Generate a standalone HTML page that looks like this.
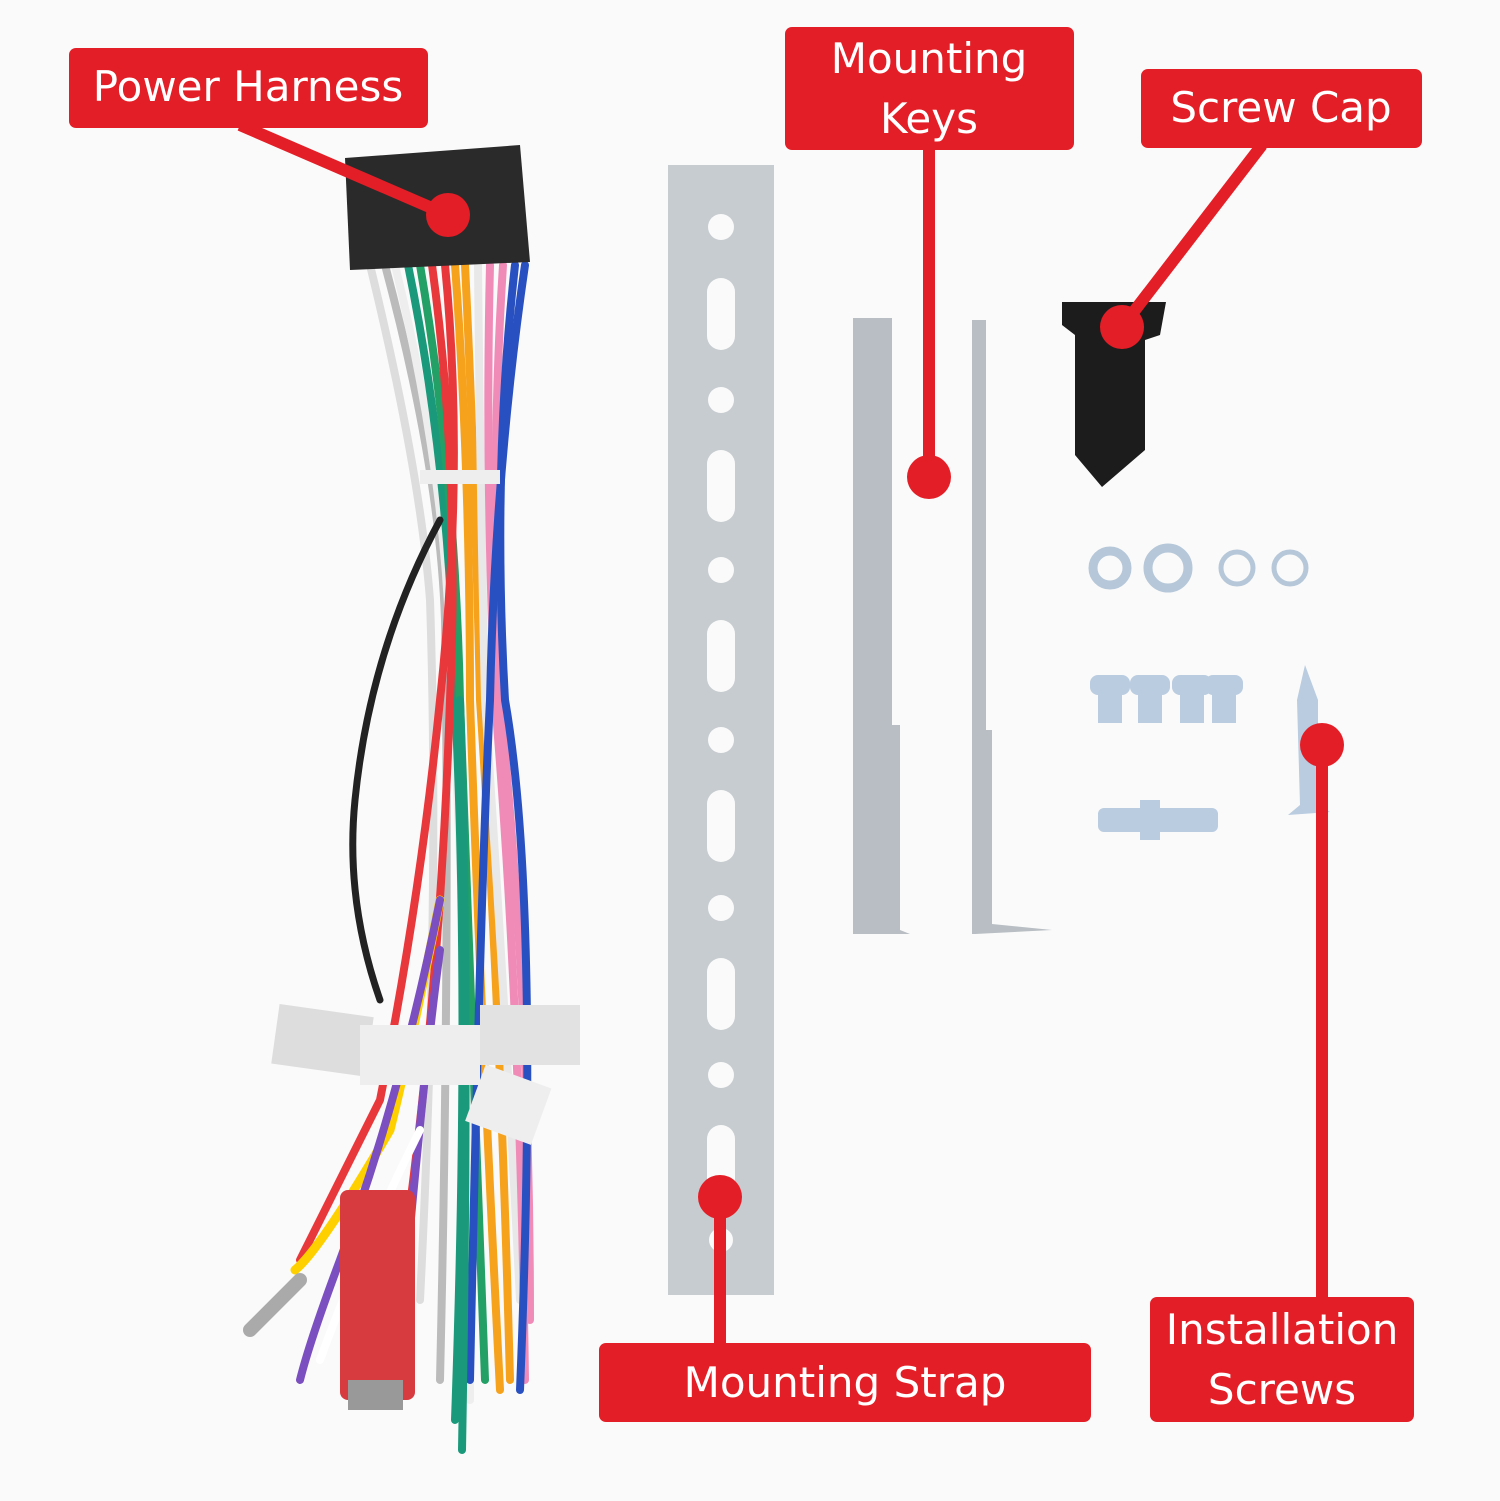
<!DOCTYPE html>
<html><head><meta charset="utf-8"><style>
html,body{margin:0;padding:0;background:#fafafa}
svg{display:block}
text{font-family:"DejaVu Sans","Liberation Sans",sans-serif;fill:#fff}
</style></head><body>
<svg width="1500" height="1501" viewBox="0 0 1500 1501" xmlns="http://www.w3.org/2000/svg">
<rect width="1500" height="1501" fill="#fafafa"/>
<g fill="none" stroke-width="8" stroke-linecap="round">
<path d="M370 265 Q420 470 430 600 Q440 900 420 1300" stroke="#ddd"/>
<path d="M385 265 Q440 470 445 620 Q450 950 440 1380" stroke="#bbb"/>
<path d="M395 265 Q445 470 450 650 Q470 1000 470 1400" stroke="#eee"/>
<path d="M408 265 Q450 470 455 700 Q470 1000 455 1420" stroke="#1a9a7a"/>
<path d="M420 265 Q455 470 460 700 Q470 1000 485 1380" stroke="#22a066"/>
<path d="M432 265 Q460 470 450 700 Q440 1000 400 1280" stroke="#e8383c"/>
<path d="M445 265 Q465 470 440 700 Q420 900 380 1100 Q330 1200 300 1260" stroke="#e8383c"/>
<path d="M455 265 Q470 470 470 700 Q480 1000 500 1390" stroke="#f6a21c"/>
<path d="M465 265 Q475 470 480 700 Q500 1000 510 1380" stroke="#f6a21c"/>
<path d="M478 265 Q480 470 485 700 Q505 1000 520 1300" stroke="#e8e8e8"/>
<path d="M490 265 Q485 470 495 700 Q520 1000 525 1380" stroke="#f08bb8"/>
<path d="M503 265 Q490 470 500 700 Q530 1000 530 1320" stroke="#f08bb8"/>
<path d="M515 265 Q492 470 505 700 Q540 900 520 1390" stroke="#2850c0"/>
<path d="M525 265 Q495 470 490 700 Q480 900 470 1380" stroke="#2850c0"/>
<path d="M440 520 Q370 650 355 800 Q345 900 380 1000" stroke="#222" stroke-width="7"/>
<path d="M440 900 Q410 1050 390 1130 Q320 1250 295 1270" stroke="#ffd000" stroke-width="9"/>
<path d="M440 900 Q400 1100 340 1260 Q310 1340 300 1380" stroke="#7b4fc0"/>
<path d="M440 950 Q420 1100 395 1400" stroke="#7b4fc0"/>
<path d="M420 1130 Q360 1250 320 1360" stroke="#fff"/>
<path d="M460 700 Q470 1000 462 1450" stroke="#1a9a7a"/>
<path d="M250 1330 L300 1280" stroke="#aaa" stroke-width="14"/>
</g>
<rect x="340" y="1190" width="75" height="210" rx="8" fill="#d73b3f"/>
<rect x="348" y="1380" width="55" height="30" fill="#999"/>
<rect x="275" y="1010" width="95" height="60" fill="#ddd" transform="rotate(8 320 1040)"/>
<rect x="360" y="1025" width="120" height="60" fill="#eee"/>
<rect x="480" y="1005" width="100" height="60" fill="#e2e2e2"/>
<rect x="475" y="1075" width="70" height="60" fill="#eee" transform="rotate(20 510 1100)"/>
<rect x="420" y="470" width="80" height="14" fill="#eee"/>
<path d="M345 158 L520 145 L530 262 L350 270 Z" fill="#2a2a2a"/>
<rect x="668" y="165" width="106" height="1130" fill="#c7ccd0"/>
<g fill="#fafafa">
<circle cx="721" cy="227" r="13"/><rect x="707" y="278" width="28" height="72" rx="14"/>
<circle cx="721" cy="400" r="13"/><rect x="707" y="450" width="28" height="72" rx="14"/>
<circle cx="721" cy="570" r="13"/><rect x="707" y="620" width="28" height="72" rx="14"/>
<circle cx="721" cy="740" r="13"/><rect x="707" y="790" width="28" height="72" rx="14"/>
<circle cx="721" cy="908" r="13"/><rect x="707" y="958" width="28" height="72" rx="14"/>
<circle cx="721" cy="1075" r="13"/><rect x="707" y="1125" width="28" height="72" rx="14"/>
<circle cx="721" cy="1240" r="12"/>
</g>
<path d="M853 318 L892 318 L892 725 L900 725 L900 930 L910 934 L853 934 Z" fill="#b8bec3"/>
<path d="M972 320 L986 320 L986 730 L992 730 L992 924 L1052 930 L975 934 L972 934 Z" fill="#b8bec3"/>
<path d="M1062 302 L1166 302 L1160 335 L1145 340 L1145 450 L1102 487 L1075 455 L1075 335 L1062 325 Z" fill="#1c1c1c"/>
<g fill="none" stroke="#b5c7d8" stroke-width="9">
<circle cx="1110" cy="568" r="17"/><circle cx="1168" cy="568" r="20"/>
<circle cx="1237" cy="568" r="16" stroke-width="5"/><circle cx="1290" cy="568" r="16" stroke-width="5"/>
</g>
<g fill="#b9cce0">
<rect x="1090" y="675" width="40" height="20" rx="8"/><rect x="1098" y="693" width="24" height="30"/>
<rect x="1130" y="675" width="40" height="20" rx="8"/><rect x="1138" y="693" width="24" height="30"/>
<rect x="1172" y="675" width="40" height="20" rx="8"/><rect x="1180" y="693" width="24" height="30"/>
<rect x="1205" y="675" width="38" height="20" rx="8"/><rect x="1212" y="693" width="24" height="30"/>
<rect x="1098" y="808" width="120" height="24" rx="6"/><rect x="1140" y="800" width="20" height="40"/>
<path d="M1305 665 L1318 700 L1318 805 L1330 812 L1288 815 L1300 805 L1297 700 Z"/>
</g>
<g fill="#e41e26" stroke="#e41e26">
<line x1="240" y1="125" x2="448" y2="215" stroke-width="12"/>
<line x1="929" y1="145" x2="929" y2="477" stroke-width="12"/>
<line x1="1262" y1="145" x2="1122" y2="327" stroke-width="12"/>
<line x1="720" y1="1348" x2="720" y2="1197" stroke-width="12"/>
<line x1="1322" y1="1300" x2="1322" y2="745" stroke-width="12"/>
</g>
<g fill="#e41e26">
<circle cx="448" cy="215" r="22"/><circle cx="929" cy="477" r="22"/><circle cx="1122" cy="327" r="22"/>
<circle cx="720" cy="1197" r="22"/><circle cx="1322" cy="745" r="22"/>
<rect x="69" y="48" width="359" height="80" rx="7"/>
<rect x="785" y="27" width="289" height="123" rx="7"/>
<rect x="1141" y="69" width="281" height="79" rx="7"/>
<rect x="599" y="1343" width="492" height="79" rx="7"/>
<rect x="1150" y="1297" width="264" height="125" rx="7"/>
</g>
<g font-size="42" text-anchor="middle">
<text x="248" y="101">Power Harness</text>
<text x="929" y="73">Mounting</text>
<text x="929" y="133">Keys</text>
<text x="1281" y="122">Screw Cap</text>
<text x="845" y="1397">Mounting Strap</text>
<text x="1282" y="1344">Installation</text>
<text x="1282" y="1404">Screws</text>
</g>
</svg>
</body></html>
